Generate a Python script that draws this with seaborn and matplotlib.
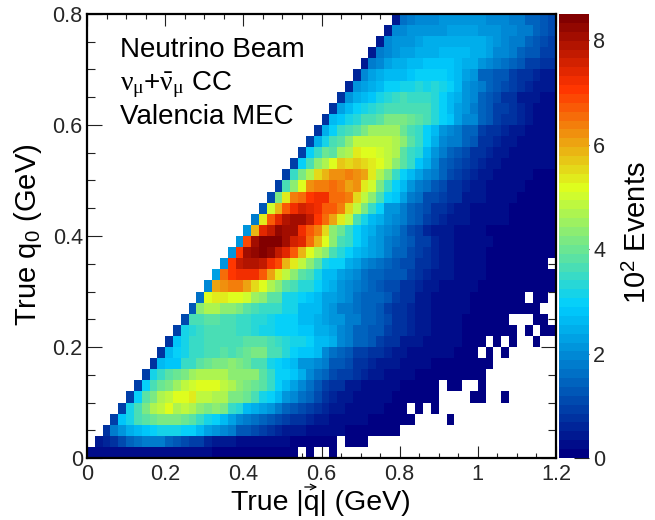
import numpy as np
import pandas as pd
import seaborn as sns
import matplotlib
matplotlib.use('Agg')
import matplotlib.pyplot as plt
from matplotlib.colors import LinearSegmentedColormap

# values in units of 10^2 events, each row starts on the diagonal (col = row)
n = np.nan
row_00 = [.2,.2,.2,.2,.2,.2,.2,.2,.2,.2,.2,.2,.2,.2,.2,.2,.1,.1,.1,.1,.1,.1,.1,.1,.1,.1,.1,n,.1,n,n,.1]
row_01 = [.4,.6,.8,1.1,1.4,1.6,1.7,1.8,1.7,1.5,1.2,1.1,1.0,.9,.6,.5,.4,.4,.3,.3,.3,.2,.2,.2,.2,.1,.1,.1,.1,.1,.1,n,.1,.1,.1]
row_02 = [.8,1.7,2.1,2.5,2.6,2.8,3.0,3.2,3.1,3.1,3.0,2.9,2.6,2.3,2.1,1.9,1.7,1.3,1.2,1.1,.9,.7,.6,.5,.5,.4,.3,.3,.2,.2,.2,.1,.1,.1,.1,.1,.1,.1]
row_03 = [.9,2.8,3.2,3.6,3.8,4.0,4.1,4.2,4.2,4.0,3.9,3.4,3.2,3.0,2.6,2.3,2.0,1.8,1.6,1.4,1.3,1.1,1.0,.8,.7,.6,.5,.4,.3,.3,.2,.2,.2,.1,.1,.1,.1,.1,.1,n,n,n,n,.1]
row_04 = [.9,3.2,3.7,4.2,4.6,4.8,5.1,4.7,4.8,4.7,4.3,4.2,4.3,4.2,3.5,3.3,2.7,2.5,2.3,2.1,1.8,1.5,1.2,1.1,.9,.8,.6,.5,.4,.3,.3,.2,.2,.2,.1,.1,.1,n,.1,n,.1]
row_05 = [.9,2.9,3.8,4.2,4.6,4.8,5.2,5.2,5.3,4.9,4.9,4.6,4.6,4.2,4.1,4.0,3.6,3.2,3.0,2.6,2.2,1.9,1.6,1.4,1.1,.8,.6,.5,.4,.3,.3,.2,.2,.2,.1,.1,.1,.1,.1,.1,n,n,n,n,.1,.1,n,n,.1]
row_06 = [.9,3.0,3.7,4.0,4.2,4.5,4.9,5.0,5.1,5.1,5.1,4.9,4.6,4.4,4.2,4.0,3.9,3.4,3.0,2.6,2.3,2.0,1.6,1.3,1.0,.8,.7,.5,.4,.3,.3,.2,.2,.2,.1,.1,.1,.1,.1,n,.1,.1,n,n,.1]
row_07 = [.9,3.1,3.4,3.8,4.0,4.2,4.5,4.6,4.7,4.7,4.6,4.4,4.3,4.3,4.3,3.9,3.4,3.0,2.9,2.8,2.4,1.9,1.6,1.5,1.1,1.0,.9,.7,.6,.5,.4,.3,.3,.2,.2,.1,.1,.1,.1,.1,.1,.1,.1,.1]
row_08 = [.7,2.6,2.8,2.8,3.4,3.5,3.9,4.0,4.2,4.1,4.3,4.2,4.0,3.7,3.6,3.2,3.0,2.8,2.6,2.1,2.1,1.9,1.7,1.2,1.3,1.1,.8,.7,.6,.5,.4,.4,.3,.2,.2,.2,.1,.1,.1,.1,.1,.1,.1,.1]
row_09 = [.8,2.6,3.0,3.1,3.4,3.5,3.7,3.7,3.8,3.7,3.9,4.0,4.2,4.1,3.7,3.6,3.3,3.0,2.8,2.8,2.6,2.0,1.6,1.5,1.3,1.0,.9,.8,.7,.6,.5,.4,.3,.3,.2,.2,.2,.2,.1,.1,.1,n,.1,n,.1]
row_10 = [.8,2.8,3.2,3.4,3.5,3.6,3.6,3.7,3.7,3.7,3.8,3.8,3.9,3.6,3.4,3.3,3.2,3.1,2.9,2.6,2.6,2.4,1.9,1.7,1.5,1.4,1.2,1.0,.8,.7,.5,.4,.4,.3,.3,.2,.2,.2,.1,.1,.1,n,.1,n,.1,n,n,.1]
row_11 = [.9,3.2,3.3,3.5,3.7,3.6,3.6,3.6,3.5,3.4,3.3,3.2,3.1,3.0,3.0,3.0,2.8,2.8,2.4,2.5,2.3,1.9,1.8,1.5,1.4,1.2,1.2,.9,.8,.7,.6,.4,.4,.3,.3,.2,.2,.1,.1,.1,.1,.1,.1,.1,n,.1,n,.1,.1]
row_12 = [1.1,3.6,3.6,3.8,3.9,3.7,3.7,3.5,3.5,3.3,3.3,3.2,3.0,3.0,2.9,2.7,2.7,2.5,2.3,2.2,2.2,1.8,1.7,1.5,1.4,1.2,1.1,.8,.7,.6,.4,.4,.3,.3,.2,.2,.1,.1,.1,.1,.1,.1,n,n,n,.1,.1]
row_13 = [1.3,4.3,4.7,4.6,4.3,4.4,4.2,3.8,3.7,3.5,3.4,3.4,3.2,3.1,2.7,2.6,2.7,2.3,2.2,1.8,1.7,1.6,1.5,1.4,1.2,1.0,.8,.7,.6,.5,.4,.3,.3,.2,.2,.2,.1,.1,.1,.1,.1,.1,.1,.1,.1]
row_14 = [1.6,5.1,5.3,5.3,5.2,5.1,5.0,4.5,4.4,3.8,3.8,3.1,3.2,2.9,2.8,2.6,2.3,2.3,2.1,1.9,1.6,1.5,1.4,1.4,1.2,1.0,.8,.7,.5,.4,.3,.3,.3,.2,.2,.1,.1,.1,.1,.1,.1,.1,n,.1,.1]
row_15 = [2.0,6.0,6.2,6.3,6.3,6.0,5.6,5.2,4.7,4.3,3.8,3.6,3.3,3.3,3.0,2.6,2.4,2.1,2.0,1.7,1.6,1.5,1.3,1.1,1.1,.8,.7,.6,.5,.4,.3,.3,.3,.2,.2,.1,.1,.1,.1,.1,.1,.1,.1,.1,.1]
row_16 = [2.3,6.6,7.1,7.2,7.2,7.2,6.7,6.1,5.4,4.9,4.3,3.9,3.6,3.2,2.7,2.6,2.3,2.1,1.9,1.6,1.5,1.4,1.3,1.2,1.2,1.0,.8,.6,.5,.4,.4,.3,.2,.2,.2,.1,.1,.1,.1,.1,.1,.1,.1,.1]
row_17 = [2.1,7.1,7.8,7.9,7.9,7.7,7.2,6.8,5.9,5.4,4.8,4.4,3.9,3.2,3.0,3.0,2.4,2.3,2.0,1.8,1.6,1.4,1.3,1.1,1.1,.8,.7,.6,.5,.4,.3,.3,.2,.2,.1,.1,.1,.1,.1,.1,.1,.1]
row_18 = [2.1,7.0,8.0,8.2,8.5,8.2,7.8,7.4,6.7,5.9,5.2,4.7,4.4,3.7,3.3,3.0,2.7,2.5,2.3,2.1,1.7,1.5,1.4,1.1,1.0,.8,.6,.5,.4,.3,.2,.2,.2,.1,.1,.1,.1,.1,.1,.1,.1,.1]
row_19 = [2.2,6.8,8.0,8.4,8.4,8.5,8.1,7.6,7.4,6.6,5.9,5.1,4.4,3.6,3.4,3.0,2.6,2.3,2.1,1.8,1.6,1.4,1.2,1.0,.9,.6,.5,.4,.3,.3,.2,.2,.2,.1,.1,.1,.1,.1,.1,.1,.1]
row_20 = [2.1,5.9,7.4,7.7,8.2,8.0,8.1,7.3,6.7,6.4,5.5,4.4,4.0,3.4,2.9,2.6,2.4,2.2,2.0,1.8,1.5,1.1,.9,.6,.5,.4,.4,.3,.2,.2,.2,.1,.1,.1,.1,.1,.1,.1,.1,.1]
row_21 = [1.8,5.4,6.7,7.4,7.9,8.0,8.1,7.7,7.0,6.5,6.1,5.4,4.8,3.7,3.2,2.7,2.4,2.2,2.0,1.7,1.5,1.2,1.0,.7,.6,.5,.4,.4,.3,.3,.2,.2,.2,.1,.1,.1,.1,.1,.1]
row_22 = [1.2,5.0,5.9,6.7,7.2,7.6,7.4,7.3,6.7,6.7,6.3,5.5,4.8,4.1,3.5,2.9,2.2,2.1,1.8,1.5,1.2,1.1,.8,.7,.6,.5,.4,.3,.3,.2,.2,.2,.1,.1,.1,.1,.1,.1]
row_23 = [1.1,4.2,5.3,6.3,6.6,7.1,7.2,7.2,6.6,6.6,6.4,5.6,4.8,4.3,3.6,2.9,2.8,2.3,1.8,1.6,1.1,1.1,1.0,.7,.7,.5,.4,.4,.3,.3,.2,.2,.1,.1,.1,.1,.1]
row_24 = [1.0,3.7,4.4,5.2,6.2,6.4,6.4,6.6,6.3,6.0,6.2,5.4,5.0,4.2,3.5,3.0,2.6,2.1,1.8,1.6,1.2,1.1,.8,.7,.6,.5,.4,.3,.3,.2,.2,.2,.1,.1,.1,.1]
row_25 = [.9,3.4,4.2,4.7,5.5,5.8,6.2,6.2,6.3,6.2,6.0,5.3,4.7,4.2,3.4,2.9,2.7,2.3,2.0,1.7,1.5,1.1,.9,.8,.6,.5,.4,.3,.3,.2,.2,.2,.1,.1,.1]
row_26 = [.9,2.9,3.7,4.4,4.7,5.2,5.7,5.6,5.7,5.6,5.4,5.2,4.8,4.4,3.9,3.5,2.8,2.4,1.9,1.5,1.3,1.1,.9,.7,.6,.5,.4,.3,.3,.2,.2,.2,.2,.2]
row_27 = [.9,2.9,3.5,4.0,3.9,4.5,4.7,5.4,5.1,5.2,5.0,4.8,4.6,3.8,3.4,3.3,2.6,2.1,1.8,1.5,1.2,1.1,.8,.7,.6,.5,.4,.3,.3,.2,.2,.2,.2]
row_28 = [.9,2.4,3.2,3.6,3.9,4.3,4.8,4.8,4.9,4.9,4.9,4.7,4.3,3.9,3.5,3.0,2.4,2.0,1.8,1.7,1.4,1.2,.8,.7,.6,.5,.4,.3,.3,.2,.2,.2]
row_29 = [.8,2.4,2.9,3.4,3.6,3.9,4.2,4.5,4.5,4.5,4.5,4.0,3.6,3.4,3.0,2.6,2.2,2.0,1.8,1.5,1.4,1.0,.8,.7,.6,.5,.4,.3,.3,.2,.2]
row_30 = [.8,2.6,2.8,3.1,3.3,3.6,3.7,3.9,4.1,4.2,4.2,4.0,3.9,3.7,3.3,3.0,2.8,2.3,2.0,1.9,1.5,1.2,1.0,.8,.7,.6,.5,.3,.3,.2]
row_31 = [.7,2.3,2.7,2.9,3.1,3.3,3.4,3.6,3.7,3.7,3.6,3.6,3.6,3.3,3.0,2.7,2.3,2.1,1.7,1.5,1.3,1.0,.9,.7,.6,.5,.3,.3,.3]
row_32 = [.7,2.2,2.5,2.7,2.8,3.1,3.3,3.5,3.6,3.5,3.4,3.4,3.3,2.9,2.7,2.4,2.1,1.9,1.5,1.2,1.1,.8,.7,.5,.5,.4,.3,.3]
row_33 = [.6,2.1,2.3,2.5,2.7,2.9,3.0,3.1,3.2,3.3,3.2,3.3,3.2,3.0,2.7,2.2,2.0,1.8,1.5,1.3,1.1,1.0,.8,.6,.5,.4,.4]
row_34 = [.6,2.0,2.3,2.5,2.6,2.7,2.7,2.8,3.0,2.9,3.0,3.0,2.8,2.6,2.3,2.1,1.5,1.4,1.3,1.2,1.0,.8,.7,.6,.5,.5]
row_35 = [.5,1.8,2.0,2.3,2.4,2.5,2.7,2.7,2.8,2.8,2.8,2.8,2.7,2.5,2.4,2.1,2.0,1.8,1.6,1.4,1.2,1.0,.9,.8,.7]
row_36 = [.5,1.8,2.0,2.2,2.3,2.3,2.5,2.5,2.5,2.6,2.6,2.6,2.6,2.5,2.4,2.3,2.0,1.9,1.7,1.5,1.3,1.2,1.0,.9]
row_37 = [.5,1.9,2.1,2.2,2.2,2.3,2.4,2.4,2.4,2.4,2.4,2.4,2.4,2.4,2.3,2.2,2.0,1.8,1.7,1.5,1.3,1.1,.9]
row_38 = [.5,1.9,2.0,2.1,2.1,2.1,2.2,2.2,2.3,2.3,2.3,2.3,2.2,2.1,2.1,2.0,1.9,1.8,1.7,1.5,1.3,1.1]
row_39 = [.5,1.6,1.8,2.0,2.0,2.0,2.1,2.1,2.1,2.1,2.1,2.1,2.0,2.0,1.9,1.8,1.7,1.5,1.4,1.2,1.1]
rows = [row_00,row_01,row_02,row_03,row_04,row_05,row_06,row_07,row_08,row_09,
        row_10,row_11,row_12,row_13,row_14,row_15,row_16,row_17,row_18,row_19,
        row_20,row_21,row_22,row_23,row_24,row_25,row_26,row_27,row_28,row_29,
        row_30,row_31,row_32,row_33,row_34,row_35,row_36,row_37,row_38,row_39]

x_tick_values = [0, 0.2, 0.4, 0.6, 0.8, 1.0, 1.2]
x_tick_labels = ['0', '0.2', '0.4', '0.6', '0.8', '1', '1.2']
y_tick_values = [0, 0.2, 0.4, 0.6, 0.8]
y_tick_labels = ['0', '0.2', '0.4', '0.6', '0.8']
cbar_tick_values = [0, 2, 4, 6, 8]
bin_width = 0.02
W, H = 655, 520

# rows are left open past their last listed bin (white = empty)
z = np.full((40, 60), np.nan)
for r, vals in enumerate(rows):
    if r + len(vals) > 60:
        print('row too long', r, len(vals))
    z[r, r:r + len(vals)] = vals[:60 - r]
df = pd.DataFrame(z)

sns.set_style('white')
plt.rcParams['font.family'] = ['Liberation Sans', 'DejaVu Sans']
plt.rcParams['mathtext.fontset'] = 'custom'
plt.rcParams['mathtext.rm'] = 'Liberation Sans'
plt.rcParams['mathtext.it'] = 'Liberation Serif'

# ROOT rainbow palette
cmap = LinearSegmentedColormap.from_list('root_rainbow', [
    (0.00, (0.00, 0.00, 0.51)),
    (0.34, (0.00, 0.81, 1.00)),
    (0.61, (0.87, 1.00, 0.12)),
    (0.84, (1.00, 0.20, 0.00)),
    (1.00, (0.51, 0.00, 0.00))], N=50)

fig = plt.figure(figsize=(W / 100, H / 100), dpi=100)
ax = fig.add_axes([87 / W, 1 - 458 / H, 469 / W, 444 / H])
cax = fig.add_axes([559 / W, 1 - 458 / H, 30 / W, 444 / H])

sns.heatmap(df, cmap=cmap, vmin=0, vmax=8.5, ax=ax, cbar_ax=cax,
            xticklabels=False, yticklabels=False)
ax.invert_yaxis()

for s in ax.spines.values():
    s.set_visible(True)
    s.set_linewidth(1.6)
    s.set_color('black')

ax.set_xticks([v / bin_width for v in x_tick_values])
ax.set_xticklabels(x_tick_labels)
ax.set_yticks([v / bin_width for v in y_tick_values])
ax.set_yticklabels(y_tick_labels, rotation=0)
ax.set_xticks(np.arange(0, 60.1, 2.5), minor=True)
ax.set_yticks(np.arange(0, 40.1, 2.5), minor=True)
ax.tick_params(axis='x', which='major', direction='in', top=True, bottom=True,
               length=8.5, width=0.8, labelsize=15.6, pad=4, color='#222222')
ax.tick_params(axis='x', which='minor', direction='in', top=True, bottom=True,
               length=3.6, width=0.8, color='#222222')
ax.tick_params(axis='y', which='major', direction='in', left=True, right=True,
               length=11, width=0.8, labelsize=15.6, pad=3, color='#222222')
ax.tick_params(axis='y', which='minor', direction='in', left=True, right=True,
               length=5.8, width=0.8, color='#222222')

cax.set_yticks(cbar_tick_values)
cax.set_yticklabels([str(t) for t in cbar_tick_values])
cax.tick_params(axis='y', direction='in', right=True, left=False, length=11,
                width=0.8, labelsize=15.6, pad=3, color='#222222')
for s in cax.spines.values():
    s.set_visible(False)


def label(px, py, s, size, rot=0, ha='left'):
    fig.text(px / W, 1 - py / H, s, fontsize=size, rotation=rot, ha=ha, va='baseline',
             rotation_mode='anchor', color='black')


label(320.5, 510, 'True |q| (GeV)', 20.5, ha='center')
label(36, 235, 'True q$_{\\mathrm{0}}$ (GeV)', 21, rot=90, ha='center')
label(646, 233, '10$^{\\mathrm{2}}$ Events', 21, rot=90, ha='center')
ax.annotate('', xy=(320 / W, 1 - 487 / H), xytext=(302 / W, 1 - 487 / H), xycoords='figure fraction',
            textcoords='figure fraction', arrowprops=dict(arrowstyle='->', lw=0.9, color='black'),
            annotation_clip=False)

label(120, 57, 'Neutrino Beam', 20)
label(120, 90, '$\\nu_{\\mu}$+$\\bar{\\nu}_{\\mu}$ CC', 20)
label(120, 124, 'Valencia MEC', 20)

fig.savefig('out.png', dpi=100)
